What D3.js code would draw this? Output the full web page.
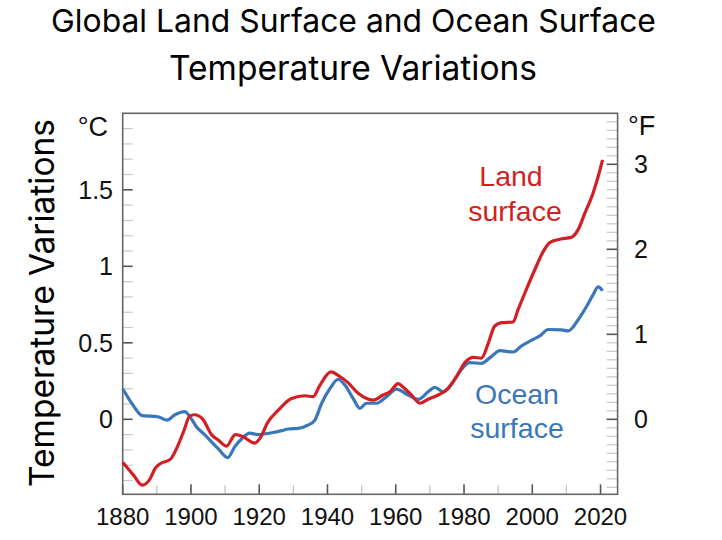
<!DOCTYPE html>
<html>
<head>
<meta charset="utf-8">
<script src="https://cdn.jsdelivr.net/npm/d3@7/dist/d3.min.js"></script>
<style>
  html, body { margin: 0; padding: 0; background: #fff; }
  svg { display: block; }
</style>
</head>
<body>
<svg id="chart" width="722" height="540"></svg>
<script>
// ---- data ----
const landYears  = [1880,1883,1885.7,1888,1889.5,1891,1894,1896,1898,1899.6,1901,1903.5,1906,1908,1910.4,1913,1915,1918.7,1920.2,1922.5,1925.6,1929.3,1933.4,1935.8,1937.8,1941,1943.6,1946,1949,1953.4,1956.3,1958.3,1960.7,1962.2,1964.6,1967.1,1969.5,1972.4,1975.3,1977.8,1980.5,1982.7,1985.1,1987.1,1989,1991,1994.4,1995.8,1997.8,2000.7,2003.2,2005.1,2008.1,2011.5,2013.4,2015.4,2017.8,2019.3,2020.6];
const landValues = [-0.28,-0.36,-0.43,-0.39,-0.32,-0.29,-0.26,-0.18,-0.07,0.02,0.03,0.00,-0.10,-0.135,-0.175,-0.10,-0.11,-0.155,-0.124,-0.02,0.06,0.135,0.154,0.148,0.224,0.31,0.28,0.24,0.17,0.126,0.159,0.18,0.233,0.21,0.159,0.105,0.131,0.159,0.20,0.279,0.377,0.405,0.40,0.497,0.61,0.632,0.636,0.715,0.824,0.976,1.096,1.155,1.177,1.19,1.238,1.347,1.478,1.587,1.696];

const oceanYears  = [1880,1883,1885.7,1890.3,1893,1895.2,1898.2,1899.6,1901.6,1904,1907.9,1910.8,1912.8,1915.2,1917.2,1919.6,1923.6,1926.6,1928.5,1931.4,1934.4,1936.3,1938.3,1940.7,1943.1,1945.1,1947.5,1949.5,1951.4,1954.4,1957.3,1960.2,1963.6,1966.6,1969.5,1971.5,1973.9,1976.8,1979.3,1981.7,1985.1,1988,1990.5,1994.4,1996.8,1999.8,2002.2,2004.7,2008.6,2010.5,2013.4,2015.9,2017.8,2019.3,2020.6];
const oceanValues = [0.20,0.094,0.024,0.017,-0.005,0.028,0.05,0.02,-0.048,-0.10,-0.19,-0.25,-0.18,-0.12,-0.09,-0.10,-0.088,-0.074,-0.063,-0.059,-0.037,-0.005,0.105,0.20,0.262,0.224,0.137,0.072,0.105,0.105,0.148,0.198,0.159,0.131,0.18,0.209,0.18,0.246,0.327,0.37,0.366,0.41,0.449,0.44,0.479,0.517,0.545,0.587,0.584,0.578,0.649,0.737,0.813,0.865,0.841];

const xMajorTicks = [1880,1900,1920,1940,1960,1980,2000,2020];
const xMinorTicks = [1890,1910,1930,1950,1970,1990,2010];
const cMajorTicks = [0,0.5,1,1.5];
const cTickLabels = ["0","0.5","1","1.5"];
const fMajorTicks = [0,1,2,3];
const fTickLabels = ["0","1","2","3"];
const titleLines = ["Global Land Surface and Ocean Surface", "Temperature Variations"];
const yAxisTitle = "Temperature Variations";
const landLabel = ["Land", "surface"];
const oceanLabel = ["Ocean", "surface"];

// ---- layout ----
const svg = d3.select("#chart");
const L = 122.7, R = 617.6, T = 113.3, B = 494.3;
const RED = "#d21f24", BLUE = "#3a77b9";
const FRAME = "#666";

const x = d3.scaleLinear().domain([1880, 2025]).range([L, R]);
const yC = d3.scaleLinear().domain([-0.49, 2.0]).range([B, T]);
const yF = d3.scaleLinear().domain([-0.49 * 1.8, 2.0 * 1.8]).range([B, T]);

const tickFont = "'Liberation Sans', Arial, sans-serif";
const titleFont = "Inter, 'Open Sans', sans-serif";

function fit(sel, width) {
  const node = sel.node();
  const fs = parseFloat(sel.attr("font-size"));
  const w = node.getComputedTextLength();
  sel.attr("font-size", fs * width / w);
}

// title
fit(svg.append("text").attr("x", 353.5).attr("y", 32).attr("text-anchor", "middle")
  .attr("font-family", titleFont).attr("font-size", 30).attr("fill", "#000").text(titleLines[0]), 605);
fit(svg.append("text").attr("x", 353).attr("y", 80).attr("text-anchor", "middle")
  .attr("font-family", titleFont).attr("font-size", 30).attr("fill", "#000").text(titleLines[1]), 368);

// y-axis title
fit(svg.append("text").attr("transform", "translate(54,303) rotate(-90)").attr("text-anchor", "middle")
  .attr("font-family", titleFont).attr("font-size", 30).attr("fill", "#000").text(yAxisTitle), 368);

// minor ticks (light)
const minorC = d3.range(-4, 20).map(d => d / 10).filter(d => cMajorTicks.indexOf(d) < 0);
const minorF = d3.range(-8, 36).map(d => d / 10).filter(d => fMajorTicks.indexOf(d) < 0);

const g = svg.append("g");
g.selectAll("line.cmin").data(minorC).join("line")
  .attr("x1", L).attr("x2", L + 10).attr("y1", d => yC(d)).attr("y2", d => yC(d))
  .attr("stroke", "#c8c8c8").attr("stroke-width", 1.2);
g.selectAll("line.fmin").data(minorF).join("line")
  .attr("x1", R - 11).attr("x2", R).attr("y1", d => yF(d)).attr("y2", d => yF(d))
  .attr("stroke", "#c8c8c8").attr("stroke-width", 1.2);
g.selectAll("line.xmin").data(xMinorTicks).join("line")
  .attr("x1", d => x(d)).attr("x2", d => x(d)).attr("y1", B).attr("y2", B - 9)
  .attr("stroke", "#c0c0c0").attr("stroke-width", 1.2);

// major ticks
g.selectAll("line.cmaj").data(cMajorTicks).join("line")
  .attr("x1", L).attr("x2", L + 10).attr("y1", d => yC(d)).attr("y2", d => yC(d))
  .attr("stroke", "#555").attr("stroke-width", 1.6);
g.selectAll("line.fmaj").data(fMajorTicks).join("line")
  .attr("x1", R - 11).attr("x2", R).attr("y1", d => yF(d)).attr("y2", d => yF(d))
  .attr("stroke", "#555").attr("stroke-width", 1.6);
g.selectAll("line.xmaj").data(xMajorTicks).join("line")
  .attr("x1", d => x(d)).attr("x2", d => x(d)).attr("y1", B).attr("y2", B - 10)
  .attr("stroke", "#555").attr("stroke-width", 1.6);

// frame
svg.append("rect").attr("x", L).attr("y", T).attr("width", R - L).attr("height", B - T)
  .attr("fill", "none").attr("stroke", FRAME).attr("stroke-width", 1.6);

// tick labels
svg.selectAll("text.cl").data(cMajorTicks).join("text")
  .attr("x", 113).attr("y", d => yC(d)).attr("dy", "0.36em").attr("text-anchor", "end")
  .attr("font-family", tickFont).attr("font-size", 25).attr("fill", "#111")
  .text((d, i) => cTickLabels[i]);
svg.selectAll("text.fl").data(fMajorTicks).join("text")
  .attr("x", 634).attr("y", d => yF(d)).attr("dy", "0.36em").attr("text-anchor", "start")
  .attr("font-family", tickFont).attr("font-size", 25).attr("fill", "#111")
  .text((d, i) => fTickLabels[i]);
svg.selectAll("text.xl").data(xMajorTicks).join("text")
  .attr("x", d => x(d)).attr("y", 525).attr("text-anchor", "middle")
  .attr("font-family", tickFont).attr("font-size", 24).attr("fill", "#111")
  .text(d => String(d));

// unit labels
svg.append("text").attr("x", 108).attr("y", 136).attr("text-anchor", "end")
  .attr("font-family", tickFont).attr("font-size", 27).attr("fill", "#111").text("°C");
svg.append("text").attr("x", 628).attr("y", 135).attr("text-anchor", "start")
  .attr("font-family", tickFont).attr("font-size", 27).attr("fill", "#111").text("°F");

// lines
const line = d3.line().x(d => x(d[0])).y(d => yC(d[1])).curve(d3.curveMonotoneX);
const oceanData = oceanYears.map((yr, i) => [yr, oceanValues[i]]);
const landData = landYears.map((yr, i) => [yr, landValues[i]]);

svg.append("path").datum(oceanData).attr("d", line).attr("fill", "none")
  .attr("stroke", BLUE).attr("stroke-width", 3.2).attr("stroke-linejoin", "round");
svg.append("path").datum(landData).attr("d", line).attr("fill", "none")
  .attr("stroke", RED).attr("stroke-width", 3.2).attr("stroke-linejoin", "round");

// series labels
svg.append("text").attr("x", 511).attr("y", 186).attr("text-anchor", "middle")
  .attr("font-family", tickFont).attr("font-size", 28.5).attr("fill", RED).text(landLabel[0]);
svg.append("text").attr("x", 515).attr("y", 220.5).attr("text-anchor", "middle")
  .attr("font-family", tickFont).attr("font-size", 28.5).attr("fill", RED).text(landLabel[1]);
svg.append("text").attr("x", 517).attr("y", 404).attr("text-anchor", "middle")
  .attr("font-family", tickFont).attr("font-size", 28.5).attr("fill", BLUE).text(oceanLabel[0]);
svg.append("text").attr("x", 517).attr("y", 438).attr("text-anchor", "middle")
  .attr("font-family", tickFont).attr("font-size", 28.5).attr("fill", BLUE).text(oceanLabel[1]);
</script>
</body>
</html>
